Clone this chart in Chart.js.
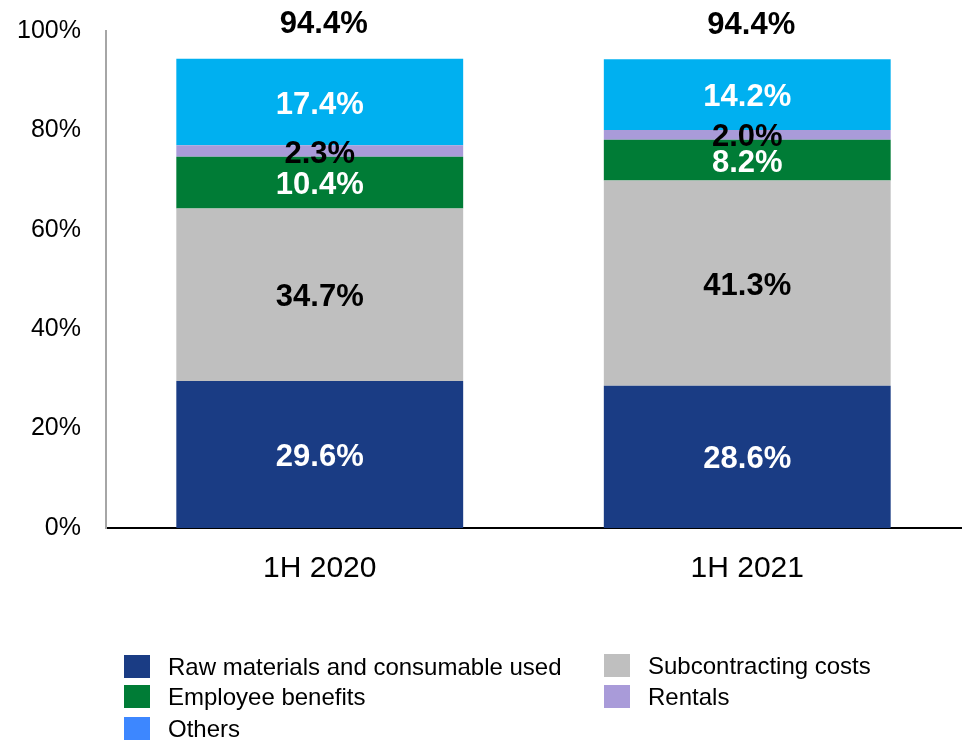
<!DOCTYPE html>
<html>
<head>
<meta charset="utf-8">
<script src="https://cdn.jsdelivr.net/npm/chart.js@4/dist/chart.umd.min.js"></script>
<style>
  body { margin: 0; background: #fff; font-family: "Liberation Sans", Arial, sans-serif; }
  #wrap { position: relative; width: 969px; height: 745px; }
  #costChart { position: absolute; left: 0; top: 0; }
  .legend-item { position: absolute; height: 24px; font-size: 24px; color: #000; white-space: nowrap; }
  .legend-item span.sw { position: absolute; left: 0; top: 0; width: 26px; height: 23px; }
  .legend-item span.tx { position: absolute; left: 44px; top: 50%; transform: translateY(-50%); line-height: 1; }
</style>
</head>
<body>
<div id="wrap">
  <canvas id="costChart" width="969" height="745"></canvas>
</div>
<script>
const periods = ["1H 2020", "1H 2021"];
const seriesNames = [
  "Raw materials and consumable used",
  "Subcontracting costs",
  "Employee benefits",
  "Rentals",
  "Others",
];
const rawMaterials = [29.6, 28.6];
const subcontracting = [34.7, 41.3];
const employeeBenefits = [10.4, 8.2];
const rentals = [2.3, 2.0];
const others = [17.4, 14.2];
const totals = [94.4, 94.4];
const yTicks = [0, 20, 40, 60, 80, 100];

const barColors = ["#1a3c84", "#bfbfbf", "#007c36", "#a99bd9", "#00b0f0"];
const swatchColors = ["#1a3c84", "#bfbfbf", "#007c36", "#a99bd9", "#3d87ff"];
const labelColors = ["#fff", "#000", "#fff", "#000", "#fff"];

const FONT = '"Liberation Sans", Arial, sans-serif';

// value labels inside each segment plus the total above each stack
const segmentLabels = {
  id: "segmentLabels",
  afterDatasetsDraw(chart) {
    const ctx = chart.ctx;
    ctx.save();
    ctx.font = `bold 31px ${FONT}`;
    ctx.textAlign = "center";
    ctx.textBaseline = "middle";
    chart.data.datasets.forEach((ds, i) => {
      const meta = chart.getDatasetMeta(i);
      meta.data.forEach((bar, j) => {
        ctx.fillStyle = labelColors[i];
        ctx.fillText(ds.data[j].toFixed(1) + "%", bar.x, (bar.y + bar.base) / 2 + 3);
      });
    });
    const topMeta = chart.getDatasetMeta(chart.data.datasets.length - 1);
    topMeta.data.forEach((bar, j) => {
      ctx.fillStyle = "#000";
      ctx.fillText(totals[j].toFixed(1) + "%", bar.x + 4, bar.y - 34);
    });
    ctx.restore();
  },
};

const seriesData = [rawMaterials, subcontracting, employeeBenefits, rentals, others];

new Chart(document.getElementById("costChart"), {
  type: "bar",
  data: {
    labels: periods,
    datasets: seriesNames.map((name, i) => ({
      label: name,
      data: seriesData[i],
      backgroundColor: barColors[i],
      borderWidth: 0,
      categoryPercentage: 1,
      barPercentage: 0.671,
    })),
  },
  options: {
    responsive: false,
    animation: false,
    layout: { padding: { top: 31, right: 8, left: 0, bottom: 0 } },
    plugins: {
      legend: { display: false },
      tooltip: { enabled: false },
    },
    scales: {
      x: {
        stacked: true,
        grid: { display: false, drawTicks: false },
        border: { display: true, color: "#000", width: 2 },
        ticks: { color: "#000", font: { family: FONT, size: 30 }, padding: 23 },
        afterFit: (s) => { s.height = 217; },
      },
      y: {
        stacked: true,
        min: 0,
        max: 100,
        afterBuildTicks: (s) => { s.ticks = yTicks.map((v) => ({ value: v })); },
        grid: { display: false, drawTicks: false },
        border: { display: true, color: "#a6a6a6", width: 2 },
        ticks: {
          color: "#000",
          font: { family: FONT, size: 25 },
          padding: 25,
          callback: (v) => v + "%",
        },
        afterFit: (s) => {
          s.width = 106;
          s.paddingTop = 0;
          s.paddingBottom = 0;
        },
      },
    },
  },
  plugins: [segmentLabels],
});

// legend laid out in two columns under the plot
const legendSpots = [
  { left: 124, top: 655 },
  { left: 604, top: 654 },
  { left: 124, top: 685 },
  { left: 604, top: 685 },
  { left: 124, top: 717 },
];
const wrap = document.getElementById("wrap");
seriesNames.forEach((name, i) => {
  const item = document.createElement("div");
  item.className = "legend-item";
  item.style.left = legendSpots[i].left + "px";
  item.style.top = legendSpots[i].top + "px";
  item.innerHTML = `<span class="sw" style="background:${swatchColors[i]}"></span><span class="tx">${name}</span>`;
  wrap.appendChild(item);
});
</script>
</body>
</html>
